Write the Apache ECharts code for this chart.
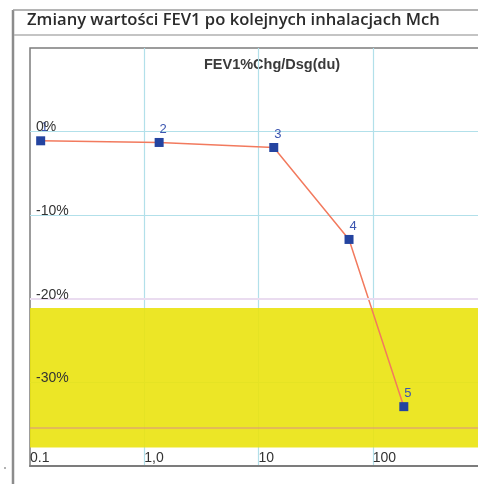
<!DOCTYPE html>
<html>
<head>
<meta charset="utf-8">
<script src="https://cdn.jsdelivr.net/npm/echarts@6/dist/echarts.min.js"></script>
<style>
html,body{margin:0;padding:0;background:#fff;overflow:hidden;}
#chart{width:478px;height:484px;}
</style>
</head>
<body>
<div id="chart"></div>
<script>
// ---- data ----
const chartTitle = 'Zmiany wartości FEV1 po kolejnych inhalacjach Mch';
const seriesTitle = 'FEV1%Chg/Dsg(du)';
const inhalationLabels = ['1', '2', '3', '4', '5'];
const doses = [0.124, 1.35, 13.6, 62, 187];
const fev1Change = [-1.1, -1.3, -1.9, -12.9, -32.9];
const xTickLabels = ['0.1', '1,0', '10', '100', ''];
const yTickValues = [-40, -30, -20, -10, 0, 10];
const yTickLabels = ['', '-30%', '-20%', '-10%', '0%', ''];
const bandRange = [-21.1, -37.8];
const thresholdValues = [-20, -35.4];

const chart = echarts.init(document.getElementById('chart'));
const points = doses.map((d, i) => [d, fev1Change[i], inhalationLabels[i]]);

const option = {
  animation: false,
  backgroundColor: '#ffffff',
  grid: {
    left: 30, top: 48, width: 457, height: 418,
    outerBoundsMode: 'none', containLabel: false,
    show: true, borderColor: '#7c7c7c', borderWidth: 1.5, backgroundColor: 'transparent'
  },
  graphic: [
    { type: 'line', shape: { x1: 13, y1: 10, x2: 13, y2: 484 }, style: { stroke: '#8c8c8c', lineWidth: 2.5 } },
    { type: 'line', shape: { x1: 13, y1: 10, x2: 478, y2: 10 }, style: { stroke: '#9c9c9c', lineWidth: 1.5 } },
    { type: 'line', shape: { x1: 14, y1: 35, x2: 478, y2: 35 }, style: { stroke: '#b0b0b0', lineWidth: 1.5 } },
    { type: 'text', left: 27, top: 12, style: { text: chartTitle, font: '600 16.6px "Open Sans"', fill: '#2b2b2b' } },
    { type: 'text', x: 272, y: 65, style: { text: seriesTitle, font: 'bold 14.5px "Liberation Sans"', fill: '#3a3a3a', align: 'center', verticalAlign: 'middle' } },
    { type: 'circle', shape: { cx: 5, cy: 468, r: 1 }, style: { fill: '#999' } }
  ],
  xAxis: {
    type: 'log', logBase: 10, min: 0.1, max: 1000,
    axisLine: { show: true, onZero: false, lineStyle: { color: '#7c7c7c', width: 2 } },
    axisTick: { show: false },
    minorTick: { show: false },
    splitLine: { show: true, showMinLine: false, showMaxLine: false, lineStyle: { color: '#b2e0ea', width: 1.2 } },
    axisLabel: {
      inside: true, align: 'left', verticalAlign: 'bottom', margin: 1,
      color: '#333', fontFamily: 'Liberation Sans', fontSize: 14,
      formatter: function (v) { return xTickLabels[Math.round(Math.log10(v)) + 1]; }
    }
  },
  yAxis: [
    {
      type: 'value', min: -40, max: 10, interval: 10,
      axisLine: { show: false },
      axisTick: { show: false },
      splitLine: { show: true, showMinLine: false, showMaxLine: false, lineStyle: { color: '#b2e0ea', width: 1.2 } },
      axisLabel: { show: false }
    },
    {
      type: 'value', min: -40, max: 10, interval: 10, position: 'left', z: 6,
      axisLine: { show: false },
      axisTick: { show: false },
      splitLine: { show: false },
      axisLabel: {
        inside: true, align: 'left', verticalAlign: 'bottom', lineHeight: 8, margin: 6,
        color: '#333', fontFamily: 'Liberation Sans', fontSize: 14,
        formatter: function (v) { return yTickLabels[yTickValues.indexOf(v)]; }
      }
    }
  ],
  series: [
    {
      type: 'line', data: [], z: 1, silent: true,
      markArea: {
        silent: true,
        itemStyle: { color: 'rgba(234,227,14,0.9)' },
        data: [[{ yAxis: bandRange[0] }, { yAxis: bandRange[1] }]]
      },
      markLine: {
        silent: true, symbol: 'none', label: { show: false },
        data: [
          { yAxis: thresholdValues[0], lineStyle: { color: '#eadcf0', type: 'solid', width: 2 } },
          { yAxis: thresholdValues[1], lineStyle: { color: 'rgba(220,150,130,0.55)', type: 'solid', width: 2 } }
        ]
      }
    },
    {
      type: 'line', z: 3,
      data: points,
      symbol: 'rect', symbolSize: 9,
      lineStyle: { color: '#f27a5e', width: 1.5 },
      itemStyle: { color: '#2444a0' },
      label: {
        show: true, position: 'top', distance: 2, offset: [4, 0],
        formatter: function (p) { return p.data[2]; },
        color: '#3b55b0', fontFamily: 'Liberation Sans', fontSize: 13
      }
    }
  ]
};
chart.setOption(option);
</script>
</body>
</html>
